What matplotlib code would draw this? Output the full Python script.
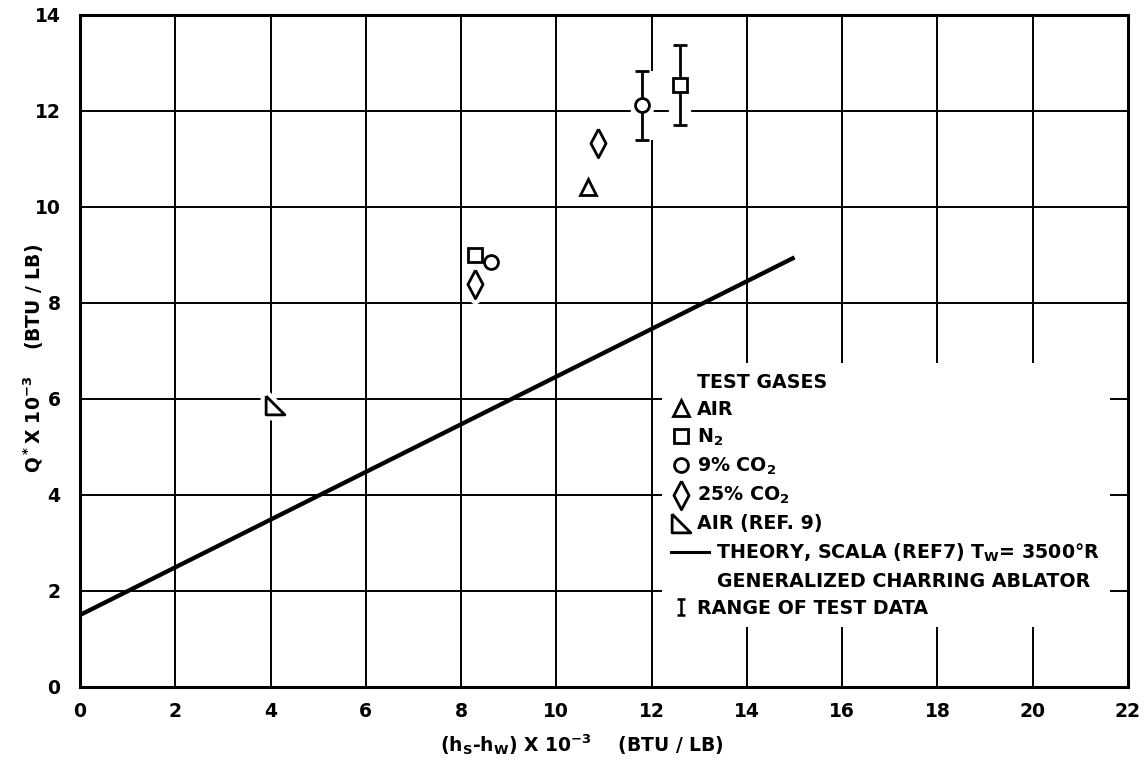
import numpy as np
import matplotlib.pyplot as plt
from matplotlib.lines import Line2D
from matplotlib.path import Path
from matplotlib.legend_handler import HandlerLine2D

plt.rcParams['font.family'] = ['DejaVu Sans']
plt.rcParams['font.weight'] = 'bold'
plt.rcParams['mathtext.default'] = 'bf'

# (h_s - h_w) x 10^-3 and Q* x 10^-3, both BTU/LB
air_x = [10.66]
air_q = [10.42]
n2_x = [8.29, 12.59]
n2_q = [9.01, 12.54]
co2_9_x = [8.63, 11.79]
co2_9_q = [8.86, 12.13]
co2_25_x = [8.30, 10.88]
co2_25_q = [8.40, 11.33]
ref9_x = [4.09]
ref9_q = [5.875]

# range of test data (only for the high enthalpy runs)
range_x = [11.79, 12.59]
range_q = [12.13, 12.54]
range_lo = [11.40, 11.70]
range_hi = [12.83, 13.38]

# Scala theory, Tw = 3500 R
theory_x = [0, 15]
theory_q = [1.5, 8.95]

x_ticks = np.arange(0, 23, 2)
y_ticks = np.arange(0, 15, 2)

# marker shapes
diamond = [(0, 1), (0.53, 0), (0, -1), (-0.53, 0), (0, 1)]
right_tri = [(-1, 1), (-1, -1), (1, -1), (-1, 1)]
ibar = Path([(-0.5, 1), (0.5, 1), (0, 1), (0, -1), (-0.5, -1), (0.5, -1)],
            [Path.MOVETO, Path.LINETO, Path.MOVETO, Path.LINETO, Path.MOVETO, Path.LINETO])

series = [
    (air_x, air_q, '^', 11),
    (n2_x, n2_q, 's', 9.8),
    (co2_9_x, co2_9_q, 'o', 10),
    (co2_25_x, co2_25_q, diamond, 20.5),
    (ref9_x, ref9_q, right_tri, 13.5),
]

fig = plt.figure(figsize=(11.47, 7.65), dpi=100)
ax = fig.add_axes([80 / 1147, 78 / 765, 1048 / 1147, 672 / 765])

ax.plot(theory_x, theory_q, color='black', linewidth=3.1, solid_capstyle='butt', zorder=3)

q = np.array(range_q)
yerr = [q - np.array(range_lo), np.array(range_hi) - q]

# white clearance around the data so the grid stops short of it
ax.errorbar(range_x, range_q, yerr=yerr, fmt='none', ecolor='white',
            elinewidth=16, capsize=6, capthick=8, zorder=2)
for x, y, m, ms in series:
    ax.plot(x, y, linestyle='None', marker=m, markersize=ms, markerfacecolor='white',
            markeredgecolor='white', markeredgewidth=8, zorder=2)

ax.errorbar(range_x, range_q, yerr=yerr, fmt='none', ecolor='black',
            elinewidth=2.0, capsize=4.8, capthick=2.0, zorder=3)

handles = []
for x, y, m, ms in series:
    h, = ax.plot(x, y, linestyle='None', marker=m, markersize=ms, markerfacecolor='white',
                 markeredgecolor='black', markeredgewidth=2.0, zorder=4)
    handles.append(h)

ax.set_xlim(0, 22)
ax.set_ylim(0, 14)
ax.set_xticks(x_ticks)
ax.set_yticks(y_ticks)
ax.grid(True, color='black', linewidth=1.4)
ax.set_axisbelow(True)
ax.tick_params(length=0, labelsize=13.5)
ax.tick_params(axis='x', pad=11)
ax.tick_params(axis='y', pad=14)
for s in ax.spines.values():
    s.set_linewidth(2.2)


class LongLine(HandlerLine2D):
    # theory key is drawn twice as long as the marker keys
    def create_artists(self, legend, orig_handle, xdescent, ydescent,
                       width, height, fontsize, trans):
        return super().create_artists(legend, orig_handle, xdescent, ydescent,
                                      width * 2, height, fontsize, trans)


blank = Line2D([], [], linestyle='None')
h_theory = Line2D([], [], color='black', linewidth=2.2)
h_range = Line2D([], [], linestyle='None', marker=ibar, markersize=11.5,
                 markeredgecolor='black', markeredgewidth=1.8)
blank2 = Line2D([], [], linestyle='None')

leg_handles = [blank] + handles + [h_theory, blank2, h_range]
labels = ['TEST GASES', 'AIR', 'N$_2$', '9% CO$_2$', '25% CO$_2$', 'AIR (REF. 9)',
          '   THEORY, SCALA (REF7) T$_W$= 3500°R',
          '   GENERALIZED CHARRING ABLATOR',
          'RANGE OF TEST DATA']
leg = ax.legend(leg_handles, labels, loc='upper left', bbox_to_anchor=(0.555, 0.482),
                borderaxespad=0, frameon=True, fancybox=False, facecolor='white',
                edgecolor='none', framealpha=1, borderpad=0.5, handlelength=1.0,
                handletextpad=0.35, labelspacing=0.42, fontsize=13.7,
                handler_map={h_theory: LongLine()})
leg.set_zorder(5)

fig.text(34 / 1147, 1 - 358 / 765, 'Q$^*$X 10$^{-3}$    (BTU / LB)', rotation=90,
         ha='center', va='center', fontsize=13.5)
fig.text(582 / 1147, 1 - 745 / 765, '(h$_S$-h$_W$) X 10$^{-3}$    (BTU / LB)',
         ha='center', va='center', fontsize=13.5)

fig.savefig('out.png', dpi=100)
